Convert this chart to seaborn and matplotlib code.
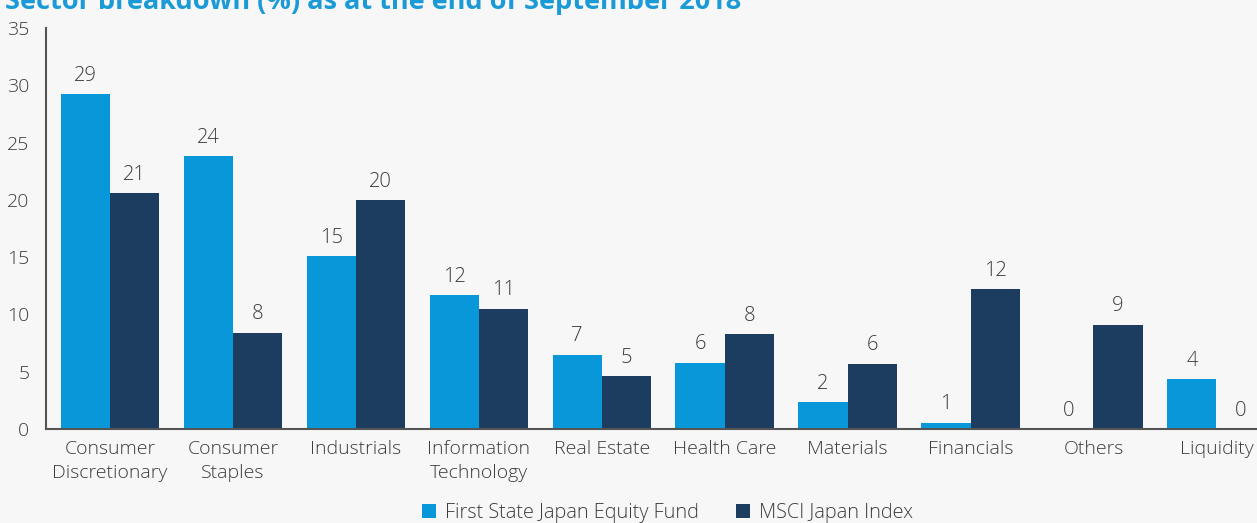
import numpy as np
import pandas as pd
import seaborn as sns
import matplotlib.pyplot as plt

sectors = ["Consumer\nDiscretionary", "Consumer\nStaples", "Industrials",
           "Information\nTechnology", "Real Estate", "Health Care",
           "Materials", "Financials", "Others", "Liquidity"]
fund = [29.2, 23.8, 15.1, 11.7, 6.5, 5.8, 2.35, 0.55, 0.0, 4.35]
msci = [20.6, 8.4, 20.0, 10.5, 4.6, 8.3, 5.7, 12.2, 9.1, 0.0]
series = ["First State Japan Equity Fund", "MSCI Japan Index"]
colors = ["#0897d8", "#1c3d60"]

df = pd.DataFrame({
    "sector": sectors * 2,
    "value": fund + msci,
    "series": [series[0]] * len(sectors) + [series[1]] * len(sectors),
})

sns.set_style("white")
plt.rcParams["font.family"] = ["Open Sans", "DejaVu Sans"]
plt.rcParams["font.weight"] = "light"
bg = "#f7f7f7"
txt = "#3c3c3c"

fig = plt.figure(figsize=(12.57, 5.23), dpi=100, facecolor=bg)
ax = fig.add_axes([46 / 1257, 94 / 523, 1 - 46 / 1257, (429 - 28) / 523])
ax.set_facecolor(bg)

sns.barplot(data=df, x="sector", y="value", hue="series", palette=colors,
            saturation=1, width=0.8, ax=ax, edgecolor="none")

for cont in ax.containers:
    ax.bar_label(cont, fmt=lambda v: f"{np.floor(v + 0.5):.0f}", padding=6,
                 fontsize=14.5, color=txt)

ax.set_ylim(0, 35)
ax.set_xlim(-0.52, 9.33)
ax.set_yticks(range(0, 36, 5))
ax.set_xlabel("")
ax.set_ylabel("")
ax.tick_params(axis="both", length=0, labelsize=14, colors=txt)
ax.tick_params(axis="y", pad=12)
ax.tick_params(axis="x", pad=8)
for lab in ax.get_xticklabels():
    lab.set_linespacing(1.45)
for s in ["top", "right"]:
    ax.spines[s].set_visible(False)
for s in ["left", "bottom"]:
    ax.spines[s].set_color("#555555")
    ax.spines[s].set_linewidth(1.5)

handles, labels = ax.get_legend_handles_labels()
ax.get_legend().remove()
fig.legend(handles, labels, loc="center", bbox_to_anchor=(0.531, 0.019),
           ncol=2, frameon=False, fontsize=14.3, handlelength=0.7,
           handleheight=0.7, columnspacing=1.9, handletextpad=0.45,
           labelcolor=txt)

fig.text(5 / 1257, 1 - 9 / 523, "Sector breakdown (%) as at the end of September 2018",
         fontsize=19.5, fontweight="bold", color="#1a9ad6", va="baseline")

fig.savefig("out.png", dpi=100, facecolor=bg)
